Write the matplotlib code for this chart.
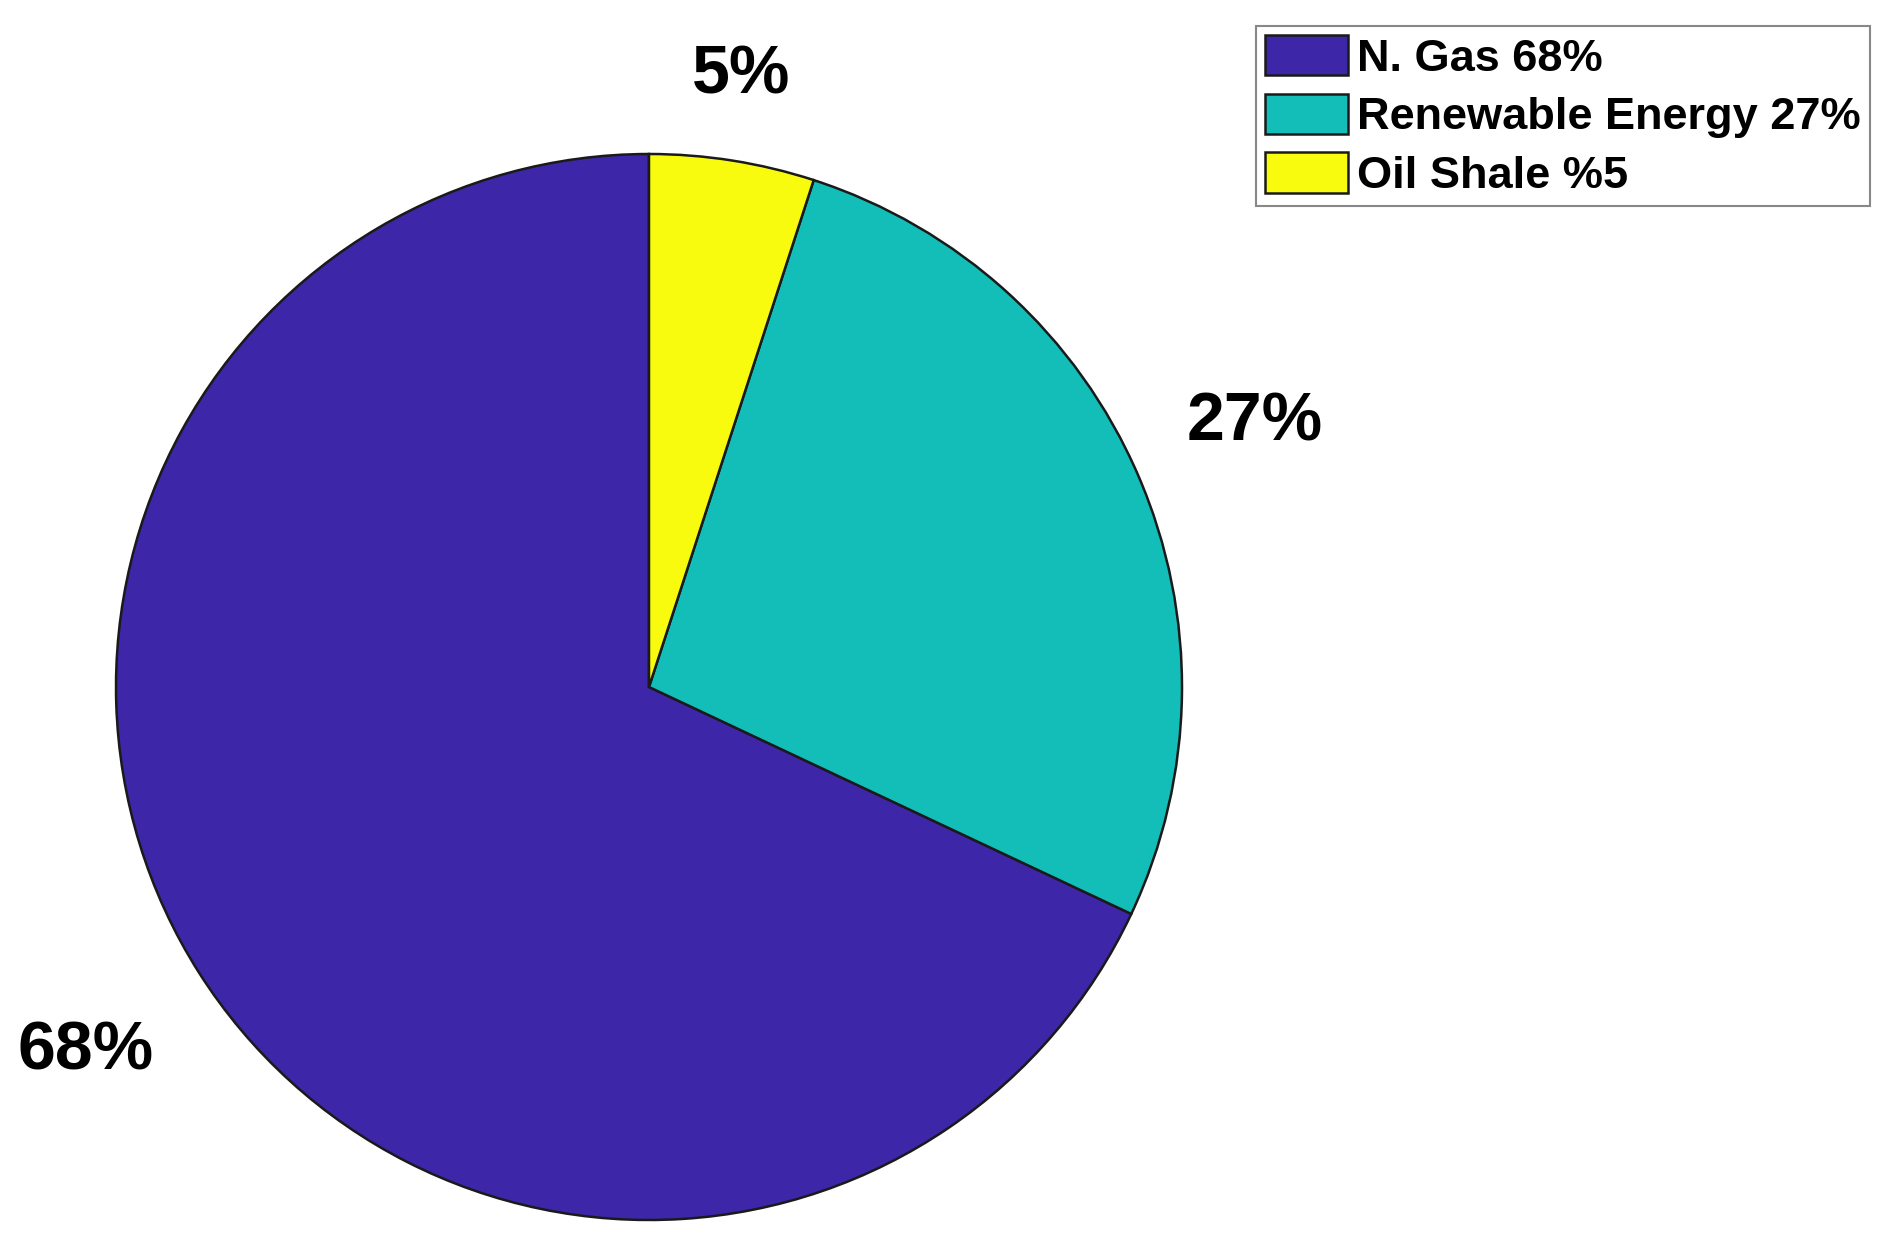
import numpy as np
import matplotlib.pyplot as plt

plt.rcParams["font.family"] = ["Liberation Sans", "DejaVu Sans"]
plt.rcParams["font.weight"] = "bold"

sources = ["N. Gas 68%", "Renewable Energy 27%", "Oil Shale %5"]
shares = [68, 27, 5]
pct_labels = ["68%", "27%", "5%"]
colors = ["#3E26A8", "#13BEB8", "#F9FB0E"]

fig = plt.figure(figsize=(18.84, 12.37), dpi=100)

# pie axes: centre ~ (649, 687) px, radius ~ 533 px
cx, cy, r = 649 / 1884, 1 - 687 / 1237, 533
w, h = 2 * r / 1884, 2 * r / 1237
ax = fig.add_axes([cx - w / 2, cy - h / 2, w, h])

wedges, texts = ax.pie(
    shares,
    labels=pct_labels,
    colors=colors,
    startangle=90,
    counterclock=True,
    labeldistance=1.1,
    wedgeprops={"edgecolor": "#1a1a1a", "linewidth": 1.8},
    textprops={"fontsize": 49, "fontweight": "bold"},
)

# matlab-like label alignment
for wedge, t in zip(wedges, texts):
    ang = np.deg2rad((wedge.theta1 + wedge.theta2) / 2)
    c, s = np.cos(ang), np.sin(ang)
    if c > 0.3:
        t.set_ha("left")
    elif c < -0.3:
        t.set_ha("right")
    else:
        t.set_ha("center")
    if s > 0:
        t.set_va("bottom")
    else:
        t.set_va("top")
        x, y = t.get_position()
        t.set_position((x, y - 0.035))

ax.set_xlim(-1, 1)
ax.set_ylim(-1, 1)
ax.set_aspect("equal")
ax.axis("off")

leg = fig.legend(
    wedges,
    sources,
    loc="upper right",
    bbox_to_anchor=(1870 / 1884, 1 - 26 / 1237),
    borderaxespad=0,
    handlelength=1.85,
    handleheight=1.0,
    handletextpad=0.2,
    borderpad=0.2,
    labelspacing=0.31,
    fancybox=False,
    framealpha=1,
    edgecolor="#888888",
    prop={"size": 32.5, "weight": "bold"},
)
leg.get_frame().set_linewidth(1.5)

plt.savefig("out.png", dpi=100)
